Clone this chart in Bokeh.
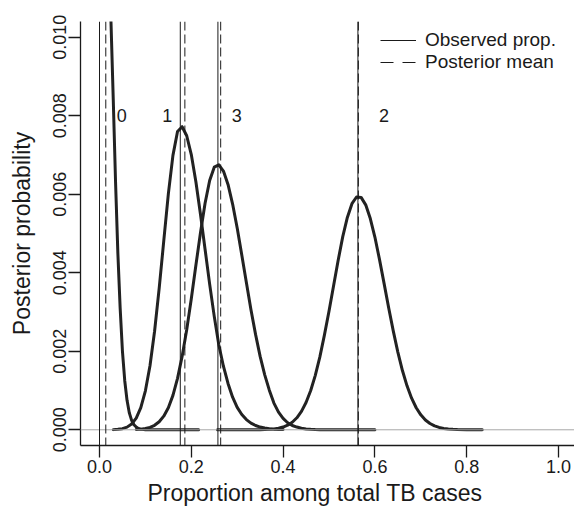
from bokeh.plotting import figure
from bokeh.models import Span, FixedTicker, PrintfTickFormatter, Legend, LegendItem, ColumnDataSource, Range1d, Title
from bokeh.core.properties import value
from bokeh.embed import file_html
from bokeh.resources import INLINE

# ---- data ----
x_ticks = [0.0, 0.2, 0.4, 0.6, 0.8, 1.0]
y_ticks = [0.000, 0.002, 0.004, 0.006, 0.008, 0.010]

group_labels = ["0", "1", "3", "2"]
observed_prop = [0.0, 0.176, 0.258, 0.563]
posterior_mean = [0.0137, 0.186, 0.264, 0.564]
label_level = 0.008

c0_x = [0.000, 0.005, 0.010, 0.015, 0.020, 0.025, 0.030, 0.035, 0.040, 0.045, 0.050,
        0.055, 0.060, 0.065, 0.070, 0.075, 0.080, 0.085, 0.090, 0.100, 0.120, 0.150, 0.216]
c0_y = [0.0190, 0.0180, 0.0165, 0.0146, 0.0125, 0.0104, 0.0084, 0.0063, 0.0045, 0.0031, 0.0020,
        0.00125, 0.00075, 0.00043, 0.00024, 0.00013, 0.00007, 0.000035, 0.000017, 0.000004, 0.0, 0.0, 0.0]

c1_x = [0.03, 0.04, 0.05, 0.06, 0.07, 0.08, 0.09, 0.10, 0.11, 0.12, 0.13, 0.14, 0.15, 0.16,
        0.17, 0.18, 0.19, 0.20, 0.21, 0.22, 0.23, 0.24, 0.25, 0.26, 0.27, 0.28, 0.29, 0.30,
        0.31, 0.32, 0.33, 0.34, 0.35, 0.36, 0.37, 0.38, 0.39, 0.40]
c1_y = [0.0000044, 0.0000117, 0.000029, 0.000068, 0.000147, 0.000298, 0.000563, 0.000993,
        0.00163, 0.00251, 0.00360, 0.00481, 0.00601, 0.00699, 0.00760, 0.00772, 0.00749,
        0.00701, 0.00632, 0.00549, 0.00460, 0.00371, 0.00289, 0.00216, 0.00162, 0.00118,
        0.00083, 0.00057, 0.00039, 0.00026, 0.00017, 0.00011, 0.00007, 0.000045, 0.000028,
        0.000017, 0.000010, 0.000006]

c3_x = [0.08, 0.09, 0.10, 0.11, 0.12, 0.13, 0.14, 0.15, 0.16, 0.17, 0.18, 0.19, 0.20, 0.21,
        0.22, 0.23, 0.24, 0.25, 0.26, 0.27, 0.28, 0.29, 0.30, 0.31, 0.32, 0.33, 0.34, 0.35,
        0.36, 0.37, 0.38, 0.39, 0.40, 0.41, 0.42, 0.43, 0.44, 0.45, 0.46, 0.47, 0.48, 0.49,
        0.50, 0.55, 0.60]
c3_y = [0.0000075, 0.000016, 0.000032, 0.000062, 0.000115, 0.000204, 0.000347, 0.000563,
        0.000877, 0.00131, 0.00187, 0.00255, 0.00334, 0.00419, 0.00502, 0.00577, 0.00635,
        0.00669, 0.00675, 0.00659, 0.00625, 0.00575, 0.00514, 0.00445, 0.00375, 0.00306,
        0.00243, 0.00187, 0.00140, 0.00101, 0.00068, 0.00045, 0.00029, 0.00018, 0.00011,
        0.00007, 0.00004, 0.000023, 0.000013, 0.000007, 0.000004, 0.000002, 0.000001, 0.0, 0.0]

c2_x = [0.257, 0.30, 0.33, 0.35, 0.36, 0.37, 0.38, 0.39, 0.40, 0.41, 0.42, 0.43, 0.44, 0.45,
        0.46, 0.47, 0.48, 0.49, 0.50, 0.51, 0.52, 0.53, 0.54, 0.55, 0.56, 0.57, 0.58, 0.59,
        0.60, 0.61, 0.62, 0.63, 0.64, 0.65, 0.66, 0.67, 0.68, 0.69, 0.70, 0.71, 0.72, 0.73,
        0.74, 0.75, 0.76, 0.77, 0.78, 0.80, 0.834]
c2_y = [0.0, 0.0000001, 0.0000007, 0.000003, 0.000006, 0.000012, 0.000022, 0.000040, 0.000070,
        0.000118, 0.000193, 0.000306, 0.000468, 0.000694, 0.000995, 0.00138, 0.00185, 0.00241,
        0.00302, 0.00367, 0.00432, 0.00492, 0.00541, 0.00576, 0.00593, 0.00592, 0.00573,
        0.00538, 0.00491, 0.00434, 0.00373, 0.00311, 0.00252, 0.00198, 0.00151, 0.00112,
        0.000805, 0.000562, 0.000381, 0.00025, 0.00016, 0.000099, 0.00006, 0.000035, 0.00002,
        0.000011, 0.000006, 0.0000015, 0.0000001]

curves = [(c0_x, c0_y), (c1_x, c1_y), (c3_x, c3_y), (c2_x, c2_y)]

# ---- styling ----
FONT = "Liberation Sans"
INK = "#1a1a1a"
label_offsets = [16, -13, 16, 26]  # screen px relative to the reference line
label_anchor = [posterior_mean[0], observed_prop[1], posterior_mean[2], observed_prop[3]]

p = figure(width=574, height=510, output_backend="svg", toolbar_location=None,
           x_range=Range1d(-0.0414, 1.0349), y_range=Range1d(-0.0004, 0.0104),
           min_border_left=80, min_border_right=0, min_border_top=21, min_border_bottom=65)
p.xgrid.visible = False
p.ygrid.visible = False
p.outline_line_color = None
p.background_fill_color = "white"
p.border_fill_color = "white"

# zero reference line
p.add_layout(Span(location=y_ticks[0], dimension="width", line_color="#a8a8a8", line_width=1))

for cx, cy in curves:
    p.line(cx, cy, line_color="#222222", line_width=3, line_join="round", line_cap="round")

for v in observed_prop:
    p.add_layout(Span(location=v, dimension="height", line_color=INK, line_width=1))
for v in posterior_mean:
    p.add_layout(Span(location=v, dimension="height", line_color=INK, line_width=1, line_dash="9 4"))

src = ColumnDataSource(dict(x=label_anchor, y=[label_level] * len(group_labels),
                            t=group_labels, dx=label_offsets))
p.text(x="x", y="y", text="t", x_offset="dx", source=src, text_font=value(FONT),
       text_font_size="18px", text_color=INK, text_align="center", text_baseline="middle")

# axes
for ax, ticks, fmt in ((p.xaxis, x_ticks, "%.1f"), (p.yaxis, y_ticks, "%.3f")):
    ax.ticker = FixedTicker(ticks=ticks)
    ax.formatter = PrintfTickFormatter(format=fmt)
    ax.major_tick_out = 12
    ax.major_tick_in = 0
    ax.minor_tick_out = 0
    ax.minor_tick_in = 0
    ax.axis_line_color = INK
    ax.axis_line_width = 1.3
    ax.major_tick_line_color = INK
    ax.major_tick_line_width = 1.3
    ax.major_label_text_font = FONT
    ax.major_label_text_font_size = "18px"
    ax.major_label_text_color = INK
    ax.axis_label_text_font = FONT
    ax.axis_label_text_font_size = "23px"
    ax.axis_label_text_font_style = "normal"
    ax.axis_label_text_color = INK

p.yaxis.axis_label = "Posterior probability"
p.xaxis.major_label_standoff = 2
p.yaxis.major_label_standoff = 2
p.yaxis.axis_label_standoff = 16
p.yaxis.major_label_orientation = "vertical"

# x-axis title (sits slightly left of the frame centre, as in the source figure)
p.add_layout(Title(text="Proportion among total TB cases", align="left", offset=67,
                   standoff=5, text_font=FONT, text_font_size="23px",
                   text_font_style="normal", text_color=INK), "below")

# legend (hidden proxy renderers carry the legend glyph styles)
r_obs = p.line(x=c1_x, y=c1_y, line_color=INK, line_width=1, visible=False)
r_post = p.line(x=c1_x, y=c1_y, line_color=INK, line_width=1, line_dash="13 9", visible=False)
legend = Legend(items=[LegendItem(label="Observed prop.", renderers=[r_obs]),
                       LegendItem(label="Posterior mean", renderers=[r_post])],
                location=(300, 372), padding=0, margin=0, spacing=0,
                glyph_width=36, glyph_height=20, label_height=20, label_standoff=9,
                label_text_font=FONT, label_text_font_size="19px", label_text_color=INK,
                background_fill_alpha=0, border_line_color=None)
p.add_layout(legend)

open("out.html", "w").write(file_html(p, INLINE))
